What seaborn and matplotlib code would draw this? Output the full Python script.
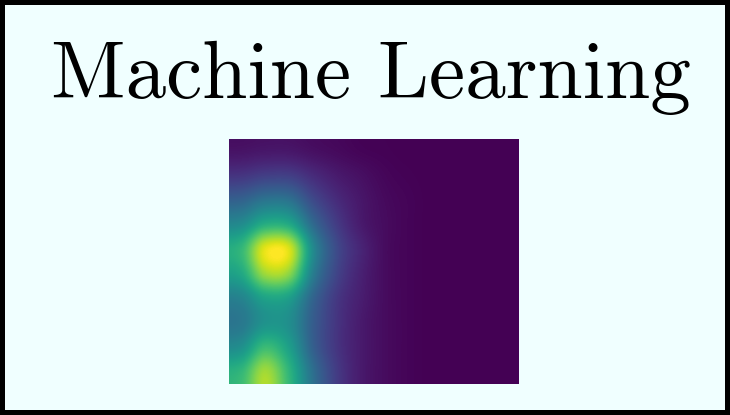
import numpy as np
import matplotlib
matplotlib.use("Agg")
import matplotlib.pyplot as plt
import seaborn as sns

sns.set_style("white")

title_text = "Machine Learning"

# field intensity sampled on a 10 x 12 grid (rows top -> bottom, cols left -> right)
row0 = [0.05, 0.06, 0.06, 0.04, 0.025, 0.01, 0.005, 0.0, 0.0, 0.0, 0.0, 0.0]
row1 = [0.15, 0.18, 0.18, 0.12, 0.07, 0.04, 0.015, 0.005, 0.0, 0.0, 0.0, 0.0]
row2 = [0.31, 0.38, 0.37, 0.22, 0.12, 0.06, 0.025, 0.01, 0.0, 0.0, 0.0, 0.0]
row3 = [0.48, 0.62, 0.60, 0.34, 0.17, 0.07, 0.03, 0.01, 0.0, 0.0, 0.0, 0.0]
row4 = [0.66, 0.96, 0.94, 0.47, 0.22, 0.10, 0.03, 0.01, 0.0, 0.0, 0.0, 0.0]
row5 = [0.60, 0.86, 0.83, 0.42, 0.20, 0.09, 0.03, 0.01, 0.0, 0.0, 0.0, 0.0]
row6 = [0.45, 0.58, 0.56, 0.32, 0.16, 0.08, 0.03, 0.01, 0.0, 0.0, 0.0, 0.0]
row7 = [0.40, 0.51, 0.49, 0.29, 0.15, 0.07, 0.03, 0.01, 0.0, 0.0, 0.0, 0.0]
row8 = [0.50, 0.68, 0.56, 0.30, 0.15, 0.07, 0.03, 0.01, 0.0, 0.0, 0.0, 0.0]
row9 = [0.66, 0.86, 0.65, 0.36, 0.17, 0.07, 0.03, 0.01, 0.0, 0.0, 0.0, 0.0]

grid = np.array([row0, row1, row2, row3, row4, row5, row6, row7, row8, row9])

bg = "#f0ffff"
fig = plt.figure(figsize=(7.30, 4.15), dpi=100, facecolor=bg,
                 edgecolor="black", linewidth=6)

ax = fig.add_axes([0.3137, 0.0747, 0.3959, 0.5904])
cmap = sns.color_palette("viridis", as_cmap=True)
ax.imshow(grid, cmap=cmap, vmin=0, vmax=1, interpolation="catrom", aspect="auto")
ax.set_axis_off()

fig.text(0.508, 1 - 98 / 415, title_text, ha="center", va="baseline",
         fontsize=58.5, family="cmr10", color="black")

fig.savefig("out.png", dpi=100, facecolor=bg, edgecolor="black")
